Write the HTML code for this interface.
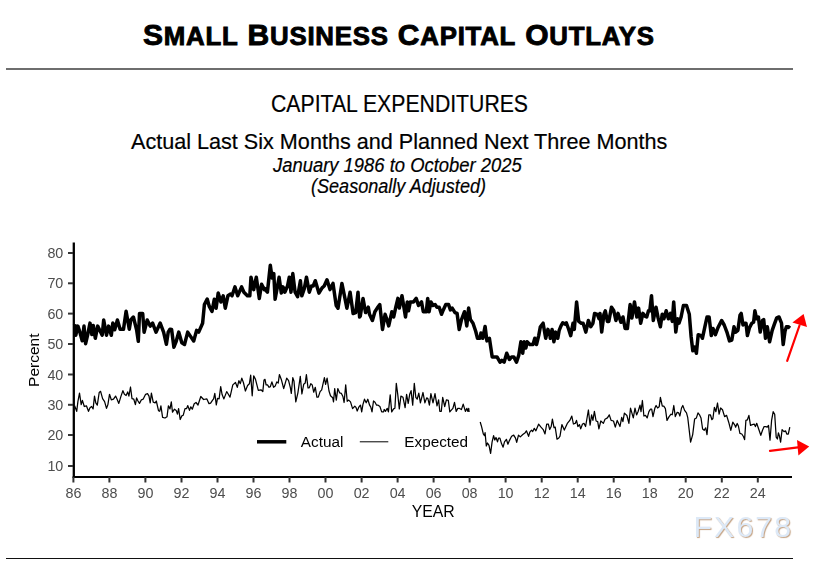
<!DOCTYPE html>
<html><head><meta charset="utf-8">
<style>
html,body{margin:0;padding:0;background:#fff;}
body{width:823px;height:564px;position:relative;overflow:hidden;font-family:"Liberation Sans",sans-serif;}
.t{position:absolute;white-space:nowrap;line-height:1;}
#title{left:143px;top:20px;font-weight:bold;font-size:30px;letter-spacing:0.77px;color:#000;-webkit-text-stroke:0.9px #000;}
#title s{text-decoration:none;font-size:25.8px;}
#rule1{position:absolute;left:6px;top:68px;width:787px;height:2px;background:#6e6e6e;}
#rule2{position:absolute;left:6px;top:558px;width:787px;height:1px;background:#111;}
#h1{left:270.5px;top:91.5px;font-size:24.5px;color:#000;transform:scaleX(0.866);transform-origin:0 0;}
#h2{left:131px;top:130.5px;font-size:21.8px;color:#000;transform:scaleX(0.991);transform-origin:0 0;}
#h3{left:273px;top:155.5px;font-size:19.5px;font-style:italic;color:#000;transform:scaleX(0.944);transform-origin:0 0;}
#h4{left:311px;top:177px;font-size:19.5px;font-style:italic;color:#000;transform:scaleX(0.926);transform-origin:0 0;}
#wm{left:693.5px;top:512px;font-size:30.3px;letter-spacing:2.1px;color:#dde9f7;text-shadow:1px 1px 1px #c4a283;}
svg{position:absolute;left:0;top:0;will-change:transform;}
.h{-webkit-text-stroke:0.2px #000;}
</style></head>
<body>
<div class="t" id="title">S<s>MALL</s> B<s>USINESS</s> C<s>APITAL</s> O<s>UTLAYS</s></div>
<div id="rule1"></div>
<div class="t h" id="h1">CAPITAL EXPENDITURES</div>
<div class="t h" id="h2">Actual Last Six Months and Planned Next Three Months</div>
<div class="t h" id="h3">January 1986 to October 2025</div>
<div class="t h" id="h4">(Seasonally Adjusted)</div>
<svg width="823" height="564" viewBox="0 0 823 564" font-family="Liberation Sans, sans-serif">
<g id="axes" stroke="#000" fill="none">
<line x1="73.8" y1="242.5" x2="73.8" y2="478" stroke-width="2.3"/>
<line x1="72.7" y1="477" x2="792" y2="477" stroke-width="2.2"/>
</g>
<g id="yt" stroke="#333" stroke-width="2">
<line x1="68" y1="466" x2="73" y2="466"/>
<line x1="68" y1="435" x2="73" y2="435"/>
<line x1="68" y1="404.8" x2="73" y2="404.8"/>
<line x1="68" y1="374.5" x2="73" y2="374.5"/>
<line x1="68" y1="344" x2="73" y2="344"/>
<line x1="68" y1="313.6" x2="73" y2="313.6"/>
<line x1="68" y1="283.3" x2="73" y2="283.3"/>
<line x1="68" y1="253" x2="73" y2="253"/>
</g>
<g id="ylab" fill="#4d4d4d" font-size="14.3" text-anchor="end">
<text x="63.3" y="471">10</text>
<text x="63.3" y="440">20</text>
<text x="63.3" y="410">30</text>
<text x="63.3" y="379.5">40</text>
<text x="63.3" y="349">50</text>
<text x="63.3" y="318.6">60</text>
<text x="63.3" y="288.3">70</text>
<text x="63.3" y="258">80</text>
</g>
<g id="xt" stroke="#333" stroke-width="2"><line x1="73.4" y1="477" x2="73.4" y2="482.5"/><line x1="109.4" y1="477" x2="109.4" y2="482.5"/><line x1="145.4" y1="477" x2="145.4" y2="482.5"/><line x1="181.5" y1="477" x2="181.5" y2="482.5"/><line x1="217.5" y1="477" x2="217.5" y2="482.5"/><line x1="253.5" y1="477" x2="253.5" y2="482.5"/><line x1="289.5" y1="477" x2="289.5" y2="482.5"/><line x1="325.5" y1="477" x2="325.5" y2="482.5"/><line x1="361.6" y1="477" x2="361.6" y2="482.5"/><line x1="397.6" y1="477" x2="397.6" y2="482.5"/><line x1="433.6" y1="477" x2="433.6" y2="482.5"/><line x1="469.6" y1="477" x2="469.6" y2="482.5"/><line x1="505.6" y1="477" x2="505.6" y2="482.5"/><line x1="541.7" y1="477" x2="541.7" y2="482.5"/><line x1="577.7" y1="477" x2="577.7" y2="482.5"/><line x1="613.7" y1="477" x2="613.7" y2="482.5"/><line x1="649.7" y1="477" x2="649.7" y2="482.5"/><line x1="685.7" y1="477" x2="685.7" y2="482.5"/><line x1="721.8" y1="477" x2="721.8" y2="482.5"/><line x1="757.8" y1="477" x2="757.8" y2="482.5"/></g>
<g id="xlab" fill="#4d4d4d" font-size="14.3" text-anchor="middle"><text x="73.4" y="498">86</text><text x="109.4" y="498">88</text><text x="145.4" y="498">90</text><text x="181.5" y="498">92</text><text x="217.5" y="498">94</text><text x="253.5" y="498">96</text><text x="289.5" y="498">98</text><text x="325.5" y="498">00</text><text x="361.6" y="498">02</text><text x="397.6" y="498">04</text><text x="433.6" y="498">06</text><text x="469.6" y="498">08</text><text x="505.6" y="498">10</text><text x="541.7" y="498">12</text><text x="577.7" y="498">14</text><text x="613.7" y="498">16</text><text x="649.7" y="498">18</text><text x="685.7" y="498">20</text><text x="721.8" y="498">22</text><text x="757.8" y="498">24</text></g>
<text x="433.2" y="517.4" font-size="15.8" text-anchor="middle" fill="#000">YEAR</text>
<text transform="translate(39.2,360.2) rotate(-90)" font-size="15.5" text-anchor="middle" fill="#000">Percent</text>
<g id="legend">
<line x1="257" y1="441.8" x2="286.3" y2="441.8" stroke="#000" stroke-width="3.5"/>
<text x="300.8" y="447" font-size="15.3" fill="#000">Actual</text>
<line x1="359.8" y1="441.8" x2="388.3" y2="441.8" stroke="#000" stroke-width="1"/>
<text x="404.3" y="447" font-size="15.3" fill="#000">Expected</text>
</g>
<g id="data" fill="none" stroke="#000" stroke-linejoin="round"><path d="M74.6,324.3 L75.8,335.2 L77.9,326.1 L79.7,331.6 L82.2,340.7 L84.0,326.1 L85.6,343.7 L87.6,335.2 L90.0,323.1 L91.9,334.6 L93.3,325.5 L95.3,338.3 L97.7,326.1 L100.1,331.0 L102.2,335.2 L103.7,320.0 L106.5,335.2 L108.6,326.1 L111.3,335.2 L112.8,323.1 L114.7,329.8 L117.4,320.0 L120.1,329.2 L123.5,329.2 L126.1,311.2 L129.3,329.2 L130.8,320.0 L133.4,317.0 L136.6,329.8 L138.3,341.3 L139.5,313.6 L142.7,313.6 L144.1,332.2 L147.2,320.0 L150.2,326.1 L152.6,323.1 L156.0,332.2 L160.2,323.1 L163.6,332.2 L166.4,344.3 L168.2,332.2 L170.0,329.2 L171.6,329.5 L173.9,347.2 L176.0,341.9 L178.8,332.1 L181.8,342.8 L184.5,344.5 L187.7,332.1 L190.7,336.6 L193.7,341.0 L196.6,330.4 L198.7,332.1 L202.6,323.3 L204.4,304.6 L207.2,299.0 L209.3,306.4 L212.0,311.4 L214.3,299.3 L216.1,308.2 L218.2,293.1 L220.9,302.0 L223.2,295.8 L225.3,308.2 L227.9,295.8 L230.6,294.0 L232.0,295.8 L235.0,286.9 L237.7,295.8 L241.6,286.9 L243.9,292.2 L247.4,295.8 L249.8,295.8 L251.0,277.2 L253.7,289.6 L256.3,277.2 L259.3,298.4 L261.6,284.3 L264.3,289.6 L265.0,288.7 L265.3,289.6 L267.4,292.2 L270.3,265.3 L272.1,278.0 L273.8,273.6 L275.1,299.3 L277.7,285.1 L279.1,277.2 L281.3,293.1 L283.0,286.9 L284.8,292.2 L287.5,286.0 L289.3,277.2 L291.0,292.2 L292.8,273.6 L295.1,292.2 L297.6,296.7 L300.4,280.7 L301.8,295.8 L304.3,288.7 L306.5,277.2 L309.3,292.2 L311.4,286.0 L313.2,286.0 L315.3,280.7 L318.9,293.1 L322.1,287.8 L324.2,286.0 L327.0,279.8 L330.0,289.6 L333.0,283.4 L336.2,305.5 L338.0,308.2 L341.9,283.4 L344.8,297.6 L346.9,308.2 L350.1,292.2 L353.1,313.5 L355.7,312.6 L358.0,292.2 L359.6,317.1 L360.3,316.1 L363.0,298.4 L365.6,312.6 L368.3,307.2 L369.5,314.3 L372.4,320.5 L374.9,311.7 L377.2,308.1 L379.8,304.6 L382.5,329.4 L385.1,314.3 L386.9,319.6 L388.7,325.9 L391.9,311.7 L393.7,317.0 L395.8,307.2 L397.9,298.4 L399.3,308.1 L402.0,295.7 L405.5,317.0 L407.3,301.9 L408.5,310.8 L410.3,301.9 L413.5,301.9 L416.2,298.4 L418.5,305.5 L421.5,301.9 L423.3,311.7 L426.3,311.7 L427.7,298.4 L429.1,311.7 L430.9,301.9 L433.0,305.5 L435.1,304.6 L436.9,307.2 L439.2,307.2 L441.5,314.3 L443.3,309.9 L445.8,304.6 L448.6,304.6 L450.4,309.9 L452.2,308.1 L455.0,312.6 L457.1,313.4 L459.2,329.4 L461.5,319.6 L464.5,311.7 L466.8,325.9 L468.6,308.1 L470.4,319.6 L473.0,323.2 L475.7,331.2 L477.5,338.3 L480.1,338.3 L481.0,332.9 L482.8,338.3 L485.1,326.4 L486.9,340.9 L489.4,338.3 L492.2,356.9 L495.2,356.9 L497.0,356.9 L500.0,362.2 L501.8,360.4 L504.1,362.2 L506.7,353.3 L509.4,359.5 L511.7,356.9 L513.8,356.9 L516.5,362.2 L518.8,355.1 L520.9,341.8 L522.7,353.3 L524.1,341.8 L525.9,348.0 L527.1,341.8 L529.8,344.5 L533.0,344.5 L534.8,338.3 L536.5,344.5 L538.7,335.6 L540.4,326.7 L543.1,323.2 L545.7,338.3 L547.9,329.4 L550.0,335.6 L550.3,338.3 L552.1,329.4 L553.9,341.8 L555.6,332.1 L557.8,338.3 L559.2,330.3 L561.0,325.9 L562.7,322.8 L564.9,324.1 L566.3,322.8 L568.4,328.5 L570.7,335.6 L573.0,323.2 L574.3,329.4 L576.6,301.9 L578.7,321.4 L581.3,323.2 L583.1,323.2 L585.8,332.1 L588.4,320.5 L590.7,326.7 L592.9,323.2 L594.6,313.4 L597.3,314.3 L599.1,318.8 L600.0,313.4 L601.7,332.1 L603.9,314.3 L605.3,310.8 L607.4,321.4 L608.8,321.4 L611.5,307.2 L613.8,310.8 L615.9,320.5 L618.0,313.4 L620.9,322.3 L623.0,317.0 L625.1,328.5 L627.4,328.5 L630.1,304.6 L631.9,317.9 L634.5,301.9 L636.8,317.0 L638.6,308.1 L640.7,323.2 L642.9,313.4 L645.0,316.1 L646.7,317.0 L648.5,310.8 L649.8,310.8 L651.5,295.7 L653.3,320.5 L656.0,307.2 L658.1,317.9 L660.4,326.7 L662.2,314.3 L663.9,318.8 L666.2,310.8 L668.4,318.8 L670.5,313.4 L672.3,321.4 L673.7,301.9 L675.8,332.1 L677.6,318.8 L679.0,323.2 L681.1,317.0 L683.4,305.5 L686.5,305.5 L689.3,314.3 L691.1,336.5 L692.8,350.7 L694.6,347.1 L696.4,353.3 L698.2,334.7 L701.2,335.6 L702.4,338.3 L704.7,327.6 L707.0,317.0 L709.1,317.0 L711.3,335.6 L713.0,328.5 L715.4,334.7 L718.0,327.6 L721.6,320.5 L724.2,325.0 L726.9,332.1 L729.5,340.9 L731.8,340.0 L734.0,326.7 L735.7,332.1 L737.9,330.3 L740.0,315.2 L741.2,313.4 L743.0,325.0 L744.8,323.2 L746.0,323.2 L747.4,335.6 L749.5,327.6 L751.8,323.2 L753.6,322.3 L754.9,310.8 L756.6,318.8 L758.4,317.0 L760.2,332.1 L762.5,320.5 L763.7,319.6 L765.5,338.3 L767.3,326.7 L769.6,341.8 L772.2,330.3 L774.4,324.1 L776.7,317.9 L779.0,317.0 L781.5,323.2 L783.2,344.5 L785.0,331.2 L786.4,326.7 L788.2,326.7 L790.0,328.2" stroke-width="3.5"/><path d="M74.6,405.8 L76.7,411.3 L77.9,401.6 L79.5,393.1 L81.2,404.6 L82.4,400.4 L84.3,406.5 L86.4,405.8 L88.5,411.3 L90.0,407.7 L91.6,406.5 L93.1,408.9 L94.5,396.1 L95.8,402.8 L97.3,405.2 L99.2,392.5 L100.6,391.3 L102.6,398.6 L104.6,401.6 L106.5,408.3 L107.9,404.6 L109.5,394.3 L111.3,399.8 L113.5,399.2 L115.6,396.1 L117.1,399.2 L118.8,403.4 L121.0,396.1 L122.9,390.7 L124.4,394.3 L126.1,395.5 L127.7,391.9 L128.9,396.1 L130.5,387.0 L132.0,398.6 L133.8,399.2 L135.4,404.6 L136.6,397.9 L138.0,401.0 L139.5,403.4 L141.4,399.8 L143.1,399.2 L145.6,394.3 L147.5,393.7 L149.0,396.1 L150.2,402.8 L151.4,393.1 L153.2,402.2 L155.1,402.8 L156.3,401.0 L158.5,410.7 L159.7,411.3 L160.9,405.8 L162.6,417.4 L165.0,418.0 L167.0,416.8 L168.4,405.8 L170.0,408.9 L171.3,401.9 L172.5,412.2 L174.5,409.2 L176.2,410.4 L177.4,414.1 L178.6,408.6 L180.2,419.5 L181.8,415.9 L183.2,415.3 L185.0,408.6 L186.6,408.6 L187.8,405.6 L189.5,410.4 L190.8,406.8 L192.3,409.2 L194.2,403.7 L196.0,402.5 L198.0,405.0 L200.8,396.5 L203.6,399.5 L206.9,398.9 L209.0,403.7 L210.6,403.1 L212.6,400.1 L213.6,398.9 L214.8,393.4 L216.3,405.0 L217.5,398.3 L219.1,398.9 L220.7,386.7 L222.1,394.6 L223.9,398.9 L226.7,391.6 L228.2,394.0 L230.0,397.1 L232.8,384.9 L235.5,382.5 L237.3,387.3 L238.9,380.7 L240.3,383.7 L241.8,378.2 L243.4,382.5 L245.4,391.0 L247.6,385.5 L249.4,383.7 L250.7,375.2 L252.2,395.8 L253.7,375.8 L255.5,379.4 L258.3,390.4 L261.0,389.8 L262.8,391.6 L264.0,380.0 L265.0,379.4 L266.1,384.9 L267.5,384.9 L269.1,387.3 L270.3,386.7 L271.9,381.9 L273.6,387.3 L275.2,386.1 L276.8,381.9 L278.2,383.1 L279.4,374.6 L281.3,379.4 L283.7,388.6 L286.7,378.2 L288.6,380.7 L290.4,387.9 L291.3,393.4 L292.8,377.6 L294.0,381.3 L295.8,401.9 L297.9,392.8 L300.3,376.4 L301.9,394.0 L303.7,384.3 L305.2,383.1 L306.4,374.6 L308.0,387.9 L309.2,387.9 L310.8,383.7 L312.2,384.9 L313.7,392.2 L315.3,387.3 L316.9,397.1 L318.3,397.1 L320.1,391.6 L321.7,389.8 L324.4,377.6 L325.6,384.3 L327.1,378.2 L329.0,391.0 L330.5,395.8 L332.7,397.7 L333.5,401.9 L334.7,388.6 L336.3,400.1 L337.8,388.6 L339.6,392.8 L341.4,393.4 L342.9,396.5 L344.1,402.5 L345.7,384.9 L347.2,401.3 L348.7,400.1 L350.5,401.9 L352.6,408.6 L354.8,406.2 L356.0,407.4 L357.2,411.0 L359.0,406.8 L360.0,405.6 L360.5,405.2 L361.7,411.9 L362.9,404.6 L364.5,399.2 L366.2,402.8 L367.8,399.2 L369.6,405.2 L370.8,407.1 L372.0,411.9 L373.5,401.0 L375.0,402.2 L376.6,405.2 L378.1,405.2 L379.9,406.5 L381.7,411.9 L383.6,411.9 L384.2,409.5 L385.6,411.3 L387.2,408.3 L388.4,411.9 L390.2,394.9 L391.7,411.9 L393.6,408.9 L394.9,408.3 L396.3,383.4 L397.8,394.9 L399.3,408.9 L400.9,396.1 L403.0,397.3 L405.1,407.7 L406.6,394.3 L408.2,403.4 L409.7,394.3 L411.1,390.7 L412.7,405.2 L414.3,383.4 L415.8,397.3 L417.2,399.2 L418.8,393.1 L420.4,402.8 L423.0,392.5 L424.9,402.8 L426.7,397.9 L427.9,398.6 L429.4,405.2 L430.9,393.7 L433.0,402.8 L435.0,393.7 L437.0,405.8 L438.6,399.8 L439.8,411.3 L441.3,411.3 L442.7,397.3 L444.7,406.5 L446.4,399.8 L448.3,400.4 L449.8,411.9 L451.3,410.2 L452.9,408.4 L454.5,402.3 L456.2,411.4 L457.8,408.4 L459.6,408.4 L461.4,409.6 L463.2,404.1 L465.4,411.4 L466.9,408.4 L467.8,411.4 L468.7,408.4 L469.1,412.0" stroke-width="1.25"/><path d="M480.2,422.0 L481.7,427.2 L483.3,433.9 L484.5,435.7 L485.1,432.7 L486.3,446.0 L487.5,443.0 L489.0,445.4 L490.6,453.3 L492.1,441.8 L493.6,435.7 L494.8,440.0 L496.0,437.5 L497.5,441.8 L498.5,438.1 L499.9,438.1 L501.5,443.6 L503.1,447.2 L504.5,441.8 L506.4,439.3 L507.9,444.2 L509.4,440.6 L511.6,436.3 L513.7,435.1 L515.5,438.1 L516.7,442.4 L518.5,435.1 L520.3,436.9 L522.8,434.5 L525.2,432.7 L526.4,430.8 L528.6,436.3 L529.8,432.1 L531.5,430.2 L532.7,431.5 L534.3,428.4 L535.9,430.8 L538.6,424.2 L541.0,427.2 L543.2,429.6 L545.0,433.9 L546.7,424.0 L548.3,424.0 L549.7,429.5 L551.2,426.5 L552.4,419.2 L554.0,427.7 L555.2,427.1 L557.0,439.2 L558.8,438.0 L560.0,436.2 L561.9,424.6 L564.3,430.1 L567.3,423.4 L569.8,420.4 L571.8,416.1 L573.4,424.0 L575.2,423.4 L576.5,420.4 L577.9,426.5 L579.5,424.6 L580.7,428.9 L582.5,424.0 L584.0,423.4 L585.6,426.5 L588.4,410.0 L590.1,425.2 L591.6,414.9 L592.9,420.4 L594.4,411.3 L596.1,421.0 L597.7,421.6 L598.9,428.9 L600.8,421.0 L603.4,423.4 L605.0,419.2 L607.4,417.9 L609.3,414.9 L611.1,420.4 L613.5,421.0 L615.3,427.1 L617.2,420.4 L620.0,426.5 L621.7,417.3 L622.9,421.6 L624.4,413.1 L626.9,415.5 L628.9,423.4 L630.5,408.2 L633.3,417.9 L635.0,408.2 L636.6,414.9 L638.2,411.3 L640.0,405.2 L641.0,411.7 L642.4,400.5 L643.9,416.0 L645.5,415.4 L647.2,417.9 L648.9,411.7 L650.5,409.2 L651.7,409.2 L653.0,416.6 L654.9,408.0 L656.1,405.5 L657.6,408.0 L659.2,406.7 L660.4,397.4 L662.3,406.1 L663.8,406.1 L665.4,408.6 L667.0,420.4 L669.1,416.6 L671.0,414.2 L672.2,414.8 L673.8,405.5 L675.3,416.6 L677.2,412.3 L678.7,412.9 L679.9,416.0 L681.5,408.0 L682.8,405.5 L684.6,410.4 L686.5,412.9 L687.7,417.3 L689.0,428.4 L690.6,442.1 L692.7,434.6 L694.6,419.1 L696.4,417.9 L698.0,412.9 L699.5,414.8 L701.0,417.9 L702.6,429.0 L704.2,430.3 L705.7,427.8 L707.0,434.6 L708.8,414.8 L710.4,414.8 L711.9,419.7 L712.9,418.5 L714.4,407.3 L715.9,411.7 L717.5,403.0 L719.1,414.2 L720.6,408.0 L722.5,409.8 L724.6,416.6 L726.6,415.4 L728.7,422.2 L730.8,430.3 L732.8,422.2 L735.0,425.3 L735.6,427.2 L737.2,423.5 L738.4,426.0 L739.9,433.4 L741.8,434.0 L743.4,436.5 L744.6,439.6 L745.9,420.4 L747.4,419.8 L748.9,415.4 L750.5,425.4 L752.3,424.7 L754.2,424.1 L755.4,426.6 L756.7,423.3 L758.5,428.5 L760.8,435.3 L762.5,430.3 L764.1,426.6 L766.0,426.6 L767.2,427.2 L768.5,425.4 L770.0,440.2 L771.6,420.4 L773.2,411.7 L774.7,414.2 L776.2,437.1 L777.4,439.0 L778.4,432.8 L779.4,435.9 L780.6,442.1 L782.1,429.7 L784.0,431.6 L785.6,430.9 L786.8,434.0 L788.3,434.0 L789.8,427.2" stroke-width="1.25"/><g fill="#f00" stroke="none"><polygon points="803.6,313.9 792.4,322.4 807,327.1"/><polygon points="809.2,446.4 797,439.9 798.4,455.6"/></g><g stroke="#f00" stroke-width="2.2" stroke-linecap="round"><line x1="787.2" y1="360.9" x2="799.5" y2="325.5"/><line x1="770" y1="450.8" x2="798" y2="447.4"/></g></g>
</svg>
<div class="t" id="wm">FX678</div>
<div id="rule2"></div>
</body></html>
